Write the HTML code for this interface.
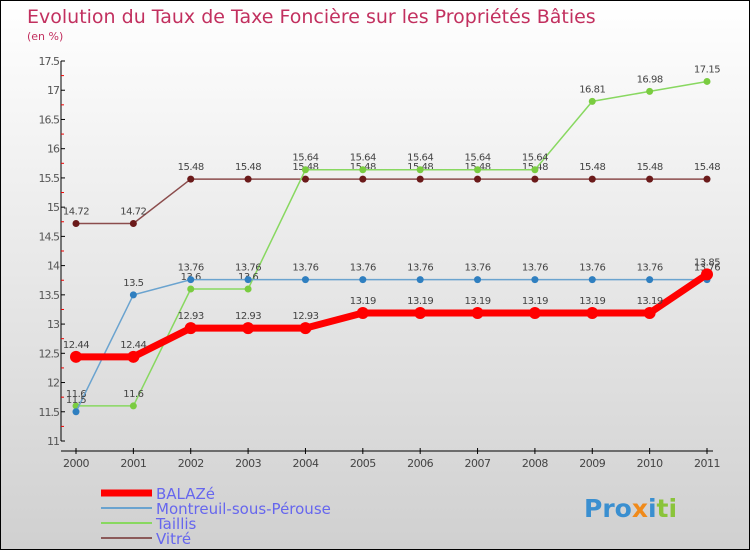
<!DOCTYPE html>
<html><head><meta charset="utf-8"><style>
body{margin:0}
#c{width:750px;height:550px;position:relative;overflow:hidden;box-sizing:border-box;border:1px solid #000;background:linear-gradient(#fff,#d0d0d0);font-family:"DejaVu Sans","Liberation Sans",sans-serif}
svg{position:absolute;left:0;top:0}
</style></head><body>
<div id="c">
<svg id="s" width="750" height="550">
<text x="26" y="22" font-size="19" fill="#c2305f">Evolution du Taux de Taxe Foncière sur les Propriétés Bâties</text>
<text x="26" y="39" font-size="11" fill="#c2305f">(en %)</text>
</svg>
</div>
<script>
const years=[2000,2001,2002,2003,2004,2005,2006,2007,2008,2009,2010,2011];
const balaze=[12.44,12.44,12.93,12.93,12.93,13.19,13.19,13.19,13.19,13.19,13.19,13.85];
const montreuil=[11.5,13.5,13.76,13.76,13.76,13.76,13.76,13.76,13.76,13.76,13.76,13.76];
const taillis=[11.6,11.6,13.6,13.6,15.64,15.64,15.64,15.64,15.64,16.81,16.98,17.15];
const vitre=[14.72,14.72,15.48,15.48,15.48,15.48,15.48,15.48,15.48,15.48,15.48,15.48];
const yTicks=[11,11.5,12,12.5,13,13.5,14,14.5,15,15.5,16,16.5,17,17.5];
const NS="http://www.w3.org/2000/svg",s=document.getElementById('s');
const X=i=>75+i*(631/11), Y=v=>440-(v-11)*(380/6.5);
function el(t,a,p){const e=document.createElementNS(NS,t);for(const k in a)e.setAttribute(k,a[k]);(p||s).appendChild(e);return e;}
let ax=el('line',{x1:60,y1:60,x2:60,y2:440,stroke:'#000'});


let xa=el('line',{x1:60,y1:450,x2:712,y2:450,stroke:'#000'});


yTicks.forEach(v=>{
 el('line',{x1:60,y1:Y(v),x2:64,y2:Y(v),stroke:'#000'});
 el('line',{x1:60,y1:Y(v+0.25),x2:63,y2:Y(v+0.25),stroke:v<17.5?'#e00':'none'});
 const t=el('text',{x:58,y:Y(v)+4,'font-size':11,fill:'#555','text-anchor':'end','letter-spacing':'-1'});
 t.textContent=String(v);
 
 
});
years.forEach((y,i)=>{
 el('line',{x1:X(i),y1:447,x2:X(i),y2:453,stroke:'#000'});
 const t=el('text',{x:X(i),y:466,'font-size':11,fill:'#444','text-anchor':'middle','letter-spacing':'-0.5'});
 t.textContent=y;
 
 
});
function series(data,color,w,r,dot,name){
 const g=el('g',{});
 
 
 el('polyline',{points:data.map((v,i)=>X(i)+','+Y(v)).join(' '),fill:'none',stroke:color,'stroke-width':w},g);
 data.forEach((v,i)=>{
  const c=el('circle',{cx:X(i),cy:Y(v),r:r,fill:dot},g);
  
  
  const t=el('text',{x:X(i),y:Y(v)-9,'font-size':10,fill:'#444','text-anchor':'middle','letter-spacing':'-0.5'},g);
  t.textContent=String(v);
  
  
 });
}
series(vitre,'#8b4c4c',1.5,3.5,'#6b1a1a','vitre');
series(taillis,'#88d860',1.5,3.5,'#7acc40','taillis');
series(montreuil,'#6aa3cf',1.5,3.5,'#2f7fc0','montreuil');
series(balaze,'#f00',7,6,'#f00','balaze');
const leg=[['BALAZé','#f00',7],['Montreuil-sous-Pérouse','#6aa3cf',2],['Taillis','#88d860',2],['Vitré','#8b5a5a',2]];
leg.forEach((l,i)=>{
 const y=492+i*15;
 const g=el('g',{});
 
 
 el('line',{x1:100,y1:y,x2:151,y2:y,stroke:l[1],'stroke-width':l[2]},g);
 const t=el('text',{x:155,y:y+6,'font-size':15,fill:'#6666ee'},g);
 t.textContent=l[0];
});
const p=el('text',{x:583,y:516,'font-size':25,'font-weight':'bold',fill:'#3a8fd0'});
p.innerHTML='Pro<tspan fill="#f08a1a">x</tspan>i<tspan fill="#8ac43a">ti</tspan>';


</script>
</body></html>
